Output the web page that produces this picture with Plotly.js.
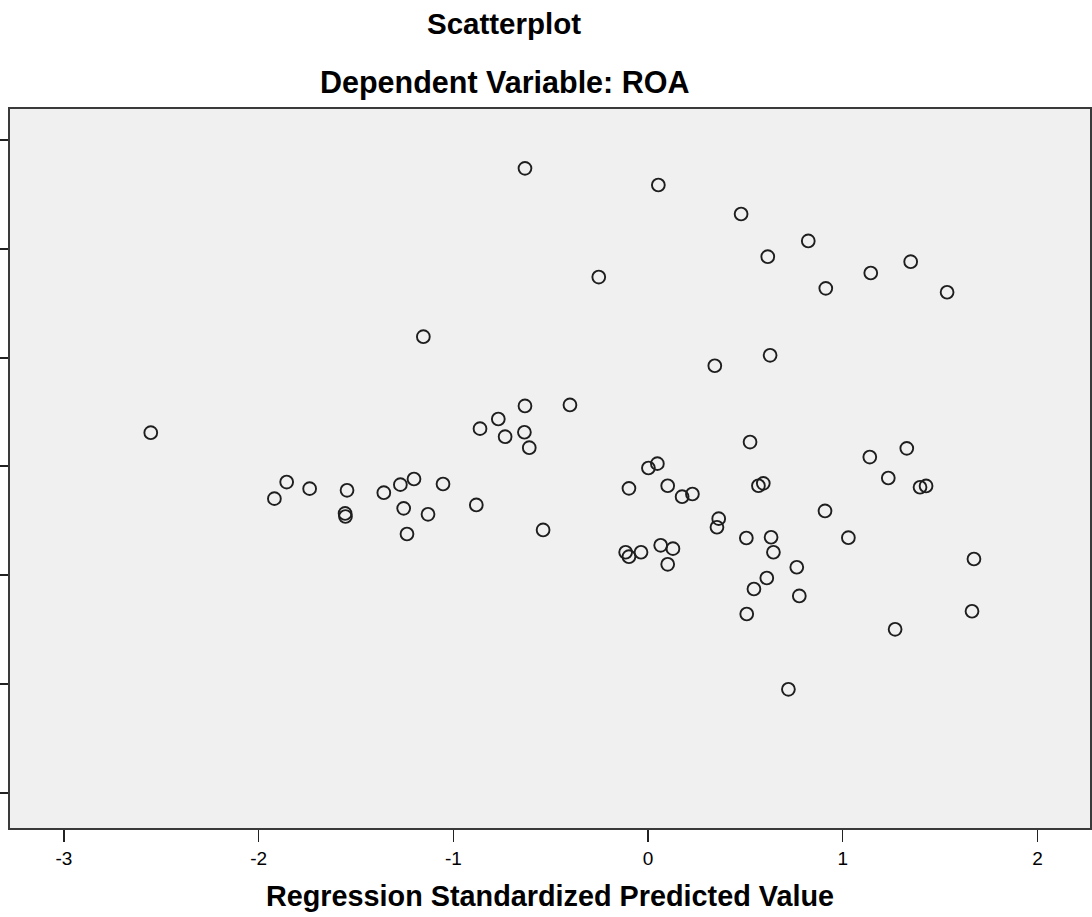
<!DOCTYPE html>
<html>
<head>
<meta charset="utf-8">
<script src="https://cdn.plot.ly/plotly-3.0.1.min.js"></script>
<style>html,body{margin:0;padding:0;background:#fff;}#chart{width:1092px;height:917px;}</style>
</head>
<body>
<div id="chart"></div>
<script>
// Regression standardized predicted value (x) and residual (y)
var predicted = [
  -0.632, 0.053, 0.478, 0.823, 0.615, 1.349, 1.144, -0.253, 0.913, 1.536,
  -1.154, 0.627, 0.343, -0.401, -0.632, -2.554, -0.769, -0.863, -0.734, -0.635,
  -0.610, 0.524, 1.329, 1.139, 0.048, 0.002, 1.234, -1.856, -1.738, -1.919,
  -1.546, -1.357, -1.272, -1.202, -1.053, -1.556, -1.554, -1.255, -1.130, -1.238,
  -0.882, -0.539, -0.098, 0.101, 0.175, 0.228, 0.567, 0.592, 1.397, 1.428,
  0.909, 0.363, 0.354, 0.505, 0.632, 0.644, 1.029, -0.115, -0.098, -0.036,
  0.065, 0.128, 0.101, 0.764, 0.610, 0.544, 0.777, 0.507, 1.674, 1.664,
  1.269, 0.721
];
var residual = [
  2.743, 2.590, 2.323, 2.075, 1.930, 1.884, 1.780, 1.743, 1.639, 1.603,
  1.194, 1.023, 0.927, 0.566, 0.557, 0.311, 0.437, 0.348, 0.274, 0.315,
  0.173, 0.225, 0.167, 0.087, 0.026, -0.014, -0.106, -0.143, -0.204, -0.296,
  -0.219, -0.241, -0.167, -0.115, -0.161, -0.432, -0.460, -0.385, -0.440, -0.621,
  -0.354, -0.584, -0.201, -0.177, -0.278, -0.253, -0.177, -0.155, -0.191, -0.179,
  -0.409, -0.480, -0.559, -0.658, -0.651, -0.789, -0.655, -0.789, -0.830, -0.789,
  -0.725, -0.756, -0.900, -0.927, -1.026, -1.127, -1.191, -1.357, -0.851, -1.332,
  -1.498, -2.050
];
var xTicks = [-3, -2, -1, 0, 1, 2];
var xTickLabels = ['-3', '-2', '-1', '0', '1', '2'];
var yTicks = [-3, -2, -1, 0, 1, 2, 3];

var FONT = '"Liberation Sans", Arial, Helvetica, sans-serif';

var trace = {
  type: 'scatter',
  mode: 'markers',
  x: predicted,
  y: residual,
  marker: {symbol: 'circle-open', size: 12.8, color: '#1e1e1e', line: {width: 1.9, color: '#1e1e1e'}},
  hoverinfo: 'x+y'
};

var layout = {
  width: 1092,
  height: 917,
  margin: {l: 10, r: 2, t: 109, b: 89, pad: 0},
  paper_bgcolor: '#ffffff',
  plot_bgcolor: '#f0f0f0',
  showlegend: false,
  title: {
    text: '<b>Scatterplot</b>',
    font: {family: FONT, size: 29.5, color: '#000'},
    xref: 'container', x: 504 / 1092, xanchor: 'center',
    yref: 'container', y: 1 - 24 / 917, yanchor: 'middle'
  },
  annotations: [{
    text: '<b>Dependent Variable: ROA</b>',
    font: {family: FONT, size: 30.5, color: '#000'},
    xref: 'paper', x: (504 - 10) / 1080, xanchor: 'center',
    yref: 'paper', y: 1 + (109 - 82) / 719, yanchor: 'middle',
    showarrow: false
  }],
  xaxis: {
    range: [-3.277, 2.270],
    tickmode: 'array', tickvals: xTicks, ticktext: xTickLabels,
    ticks: 'outside', ticklen: 12, tickwidth: 1.5, tickcolor: '#222',
    tickfont: {family: FONT, size: 19, color: '#000'},
    showgrid: false, zeroline: false,
    showline: true, linecolor: '#3a3a3a', linewidth: 2, mirror: true,
    title: {text: '<b>Regression Standardized Predicted Value</b>', font: {family: FONT, size: 28.8, color: '#000'}, standoff: 18}
  },
  yaxis: {
    range: [-3.326, 3.289],
    tickmode: 'array', tickvals: yTicks,
    ticks: 'outside', ticklen: 12, tickwidth: 2, tickcolor: '#222',
    showticklabels: false,
    showgrid: false, zeroline: false,
    showline: true, linecolor: '#3a3a3a', linewidth: 2, mirror: true
  }
};

Plotly.newPlot('chart', [trace], layout, {displayModeBar: false, staticPlot: true});
</script>
</body>
</html>
